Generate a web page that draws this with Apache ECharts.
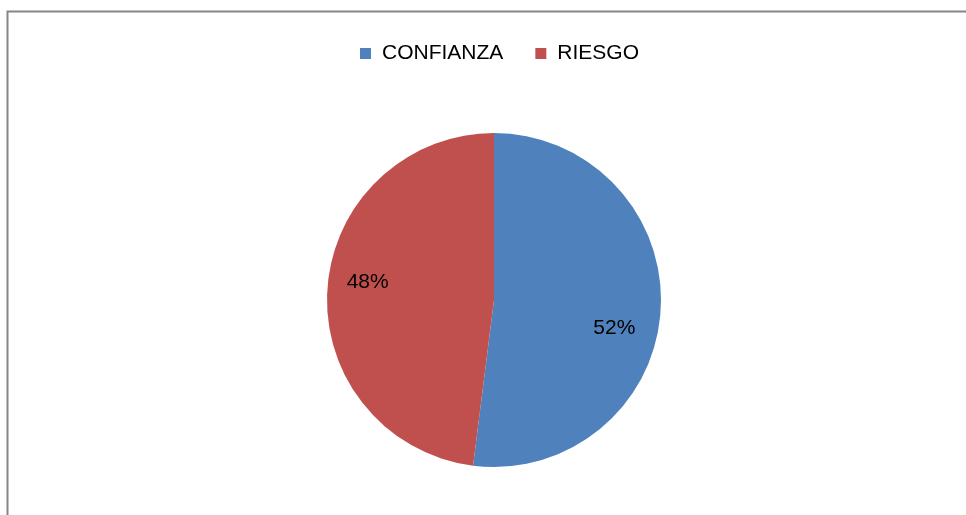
<!DOCTYPE html>
<html>
<head>
<meta charset="utf-8">
<script src="https://cdn.jsdelivr.net/npm/echarts@6/dist/echarts.min.js"></script>
<style>
html,body{margin:0;padding:0;background:#fff;}
#main{width:966px;height:515px;}
</style>
</head>
<body>
<div id="main"></div>
<script>
const categories = ['CONFIANZA', 'RIESGO'];
const values = [52, 48];
const colors = ['#4F81BD', '#C0504D'];
const labelShift = [[34, 23], [-40, -12]];

const chart = echarts.init(document.getElementById('main'), null, {renderer: 'canvas'});
const FONT = '"Liberation Sans", Arial, sans-serif';
chart.setOption({
  animation: false,
  backgroundColor: '#ffffff',
  graphic: [{
    type: 'rect',
    shape: {x: 7.5, y: 11.5, width: 1000, height: 600},
    style: {fill: 'none', stroke: '#868686', lineWidth: 2},
    silent: true
  }],
  legend: {
    top: 38,
    left: 355,
    itemWidth: 11,
    itemHeight: 11,
    itemGap: 32,
    icon: 'rect',
    textStyle: {fontFamily: FONT, fontSize: 21, color: '#000', padding: [0, 0, 0, 6]},
    data: categories
  },
  series: [{
    type: 'pie',
    center: [494, 300],
    radius: 167,
    startAngle: 90,
    clockwise: true,
    label: {
      show: true,
      position: 'inside',
      formatter: p => Math.round(p.percent) + '%',
      fontFamily: FONT,
      fontSize: 21,
      color: '#000'
    },
    labelLine: {show: false},
    labelLayout: p => ({dx: labelShift[p.dataIndex][0], dy: labelShift[p.dataIndex][1]}),
    itemStyle: {borderColor: '#ffffff', borderWidth: 0},
    emphasis: {disabled: true},
    data: categories.map((c, i) => ({name: c, value: values[i], itemStyle: {color: colors[i]}}))
  }]
});
</script>
</body>
</html>
